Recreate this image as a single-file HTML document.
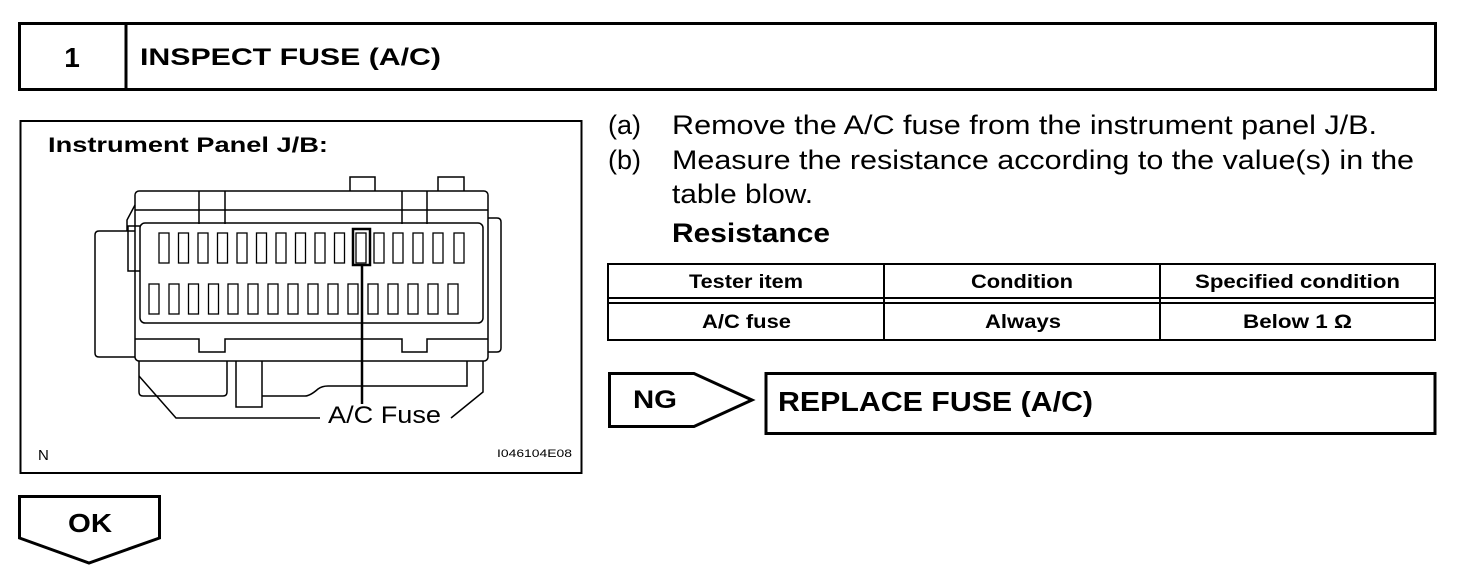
<!DOCTYPE html>
<html><head><meta charset="utf-8"><style>
html,body{margin:0;padding:0;background:#fff;}
svg{display:block;}
text{font-family:"Liberation Sans",Arial,sans-serif;fill:#000;}
</style></head><body>
<svg width="1472" height="580" viewBox="0 0 1472 580" xmlns="http://www.w3.org/2000/svg">
<!-- header -->
<rect x="19.5" y="23.5" width="1416" height="66" fill="none" stroke="#000" stroke-width="3"/>
<line x1="126" y1="23" x2="126" y2="90" stroke="#000" stroke-width="3"/>
<text x="72" y="67" font-size="28" font-weight="bold" text-anchor="middle">1</text>
<text x="140" y="65" font-size="24" font-weight="bold" textLength="301" lengthAdjust="spacingAndGlyphs">INSPECT FUSE (A/C)</text>

<!-- figure box -->
<rect x="20.5" y="121" width="561" height="352" fill="none" stroke="#000" stroke-width="2"/>
<text x="48" y="152" font-size="21" font-weight="bold" textLength="280" lengthAdjust="spacingAndGlyphs">Instrument Panel J/B:</text>
<g fill="none" stroke="#000" stroke-width="1.5">
  <path d="M350 191 V177 H375 V191"/>
  <path d="M438 191 V177 H464 V191"/>
  <rect x="135" y="191" width="353" height="170" rx="4"/>
  <line x1="135" y1="210" x2="488" y2="210"/>
  <path d="M199 191 V224 M225 191 V224 M402 191 V224 M427 191 V224"/>
  <rect x="140" y="223" width="343" height="100" rx="5"/>
  <path d="M135 339 H199 V352 H225 V339 H402 V352 H427 V339 H488"/>
  <path d="M135 231 H99 Q95 231 95 235 V353 Q95 357 99 357 H135"/>
  <path d="M140 226 H128 V271 H140"/>
  <path d="M135 205 L127 220 V231"/>
  <path d="M488 218 H497 Q501 218 501 222 V348 Q501 352 497 352 H488"/>
  <path d="M139 361 V392 Q139 396 143 396 H223 Q227 396 227 392 V361"/>
  <path d="M236 361 V407 H262 V361"/>
  <path d="M262 396 H305 Q310 396 318 389 Q322 386 328 386 H467 V361"/>
  <path d="M139 376 L176 418 H320"/>
  <path d="M483 361 V392 L451 418"/>
  <g stroke-width="1.3">
    <rect x="159" y="233" width="10" height="30"/><rect x="178.5" y="233" width="10" height="30"/>
    <rect x="198" y="233" width="10" height="30"/><rect x="217.5" y="233" width="10" height="30"/>
    <rect x="237" y="233" width="10" height="30"/><rect x="256.5" y="233" width="10" height="30"/>
    <rect x="276" y="233" width="10" height="30"/><rect x="295.5" y="233" width="10" height="30"/>
    <rect x="315" y="233" width="10" height="30"/><rect x="334.5" y="233" width="10" height="30"/>
    <rect x="356" y="233" width="10" height="30"/><rect x="374" y="233" width="10" height="30"/>
    <rect x="393" y="233" width="10" height="30"/><rect x="413" y="233" width="10" height="30"/>
    <rect x="433" y="233" width="10" height="30"/><rect x="454" y="233" width="10" height="30"/>
    <rect x="149" y="284" width="10" height="30"/><rect x="169" y="284" width="10" height="30"/>
    <rect x="188.5" y="284" width="10" height="30"/><rect x="208.5" y="284" width="10" height="30"/>
    <rect x="228" y="284" width="10" height="30"/><rect x="248" y="284" width="10" height="30"/>
    <rect x="268" y="284" width="10" height="30"/><rect x="288" y="284" width="10" height="30"/>
    <rect x="308" y="284" width="10" height="30"/><rect x="328" y="284" width="10" height="30"/>
    <rect x="348" y="284" width="10" height="30"/><rect x="368" y="284" width="10" height="30"/>
    <rect x="388" y="284" width="10" height="30"/><rect x="408" y="284" width="10" height="30"/>
    <rect x="428" y="284" width="10" height="30"/><rect x="448" y="284" width="10" height="30"/>
  </g>
  <rect x="353" y="229" width="17" height="36" stroke-width="2.5"/>
  <line x1="362" y1="265" x2="362" y2="404" stroke-width="2.5"/>
</g>
<text x="328" y="423" font-size="24" textLength="113" lengthAdjust="spacingAndGlyphs">A/C Fuse</text>
<text x="38" y="460" font-size="15">N</text>
<text x="497" y="457" font-size="11" textLength="75" lengthAdjust="spacingAndGlyphs">I046104E08</text>

<!-- instructions -->
<text x="608" y="134" font-size="27">(a)</text>
<text x="672" y="134" font-size="27" textLength="705" lengthAdjust="spacingAndGlyphs">Remove the A/C fuse from the instrument panel J/B.</text>
<text x="608" y="169" font-size="27">(b)</text>
<text x="672" y="169" font-size="27" textLength="742" lengthAdjust="spacingAndGlyphs">Measure the resistance according to the value(s) in the</text>
<text x="672" y="203" font-size="27" textLength="141" lengthAdjust="spacingAndGlyphs">table blow.</text>
<text x="672" y="242" font-size="27" font-weight="bold" textLength="158" lengthAdjust="spacingAndGlyphs">Resistance</text>

<!-- table -->
<g fill="none" stroke="#000" stroke-width="2">
  <rect x="608" y="264" width="827" height="76"/>
  <line x1="884" y1="264" x2="884" y2="340"/>
  <line x1="1160" y1="264" x2="1160" y2="340"/>
  <line x1="608" y1="298" x2="1435" y2="298"/>
  <line x1="608" y1="303" x2="1435" y2="303"/>
</g>
<g font-size="19" font-weight="bold">
  <text x="689" y="288" textLength="114" lengthAdjust="spacingAndGlyphs">Tester item</text>
  <text x="971" y="288" textLength="102" lengthAdjust="spacingAndGlyphs">Condition</text>
  <text x="1195" y="288" textLength="205" lengthAdjust="spacingAndGlyphs">Specified condition</text>
  <text x="702" y="328" textLength="89" lengthAdjust="spacingAndGlyphs">A/C fuse</text>
  <text x="985" y="328" textLength="76" lengthAdjust="spacingAndGlyphs">Always</text>
  <text x="1243" y="328" textLength="109" lengthAdjust="spacingAndGlyphs">Below 1 Ω</text>
</g>

<!-- NG -->
<path d="M609.5 373.5 H694 L752 400 L694 426.5 H609.5 Z" fill="none" stroke="#000" stroke-width="3"/>
<text x="633" y="408" font-size="25" font-weight="bold" textLength="44" lengthAdjust="spacingAndGlyphs">NG</text>
<rect x="766" y="373.5" width="669" height="60" fill="none" stroke="#000" stroke-width="3"/>
<text x="778" y="411" font-size="28" font-weight="bold" textLength="315" lengthAdjust="spacingAndGlyphs">REPLACE FUSE (A/C)</text>

<!-- OK -->
<path d="M19.5 496.5 H159.5 V538 L89 563 L19.5 538 Z" fill="none" stroke="#000" stroke-width="3"/>
<text x="68" y="532" font-size="26" font-weight="bold" textLength="44" lengthAdjust="spacingAndGlyphs">OK</text>
</svg>
</body></html>
